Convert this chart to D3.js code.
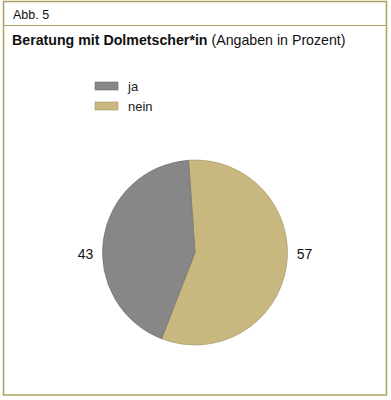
<!DOCTYPE html>
<html><head><meta charset="utf-8">
<script src="https://cdn.jsdelivr.net/npm/d3@7"></script>
<style>body{margin:0;background:#fff}svg{display:block}</style>
</head><body>
<script>
const categories = ["ja", "nein"];
const values = [43, 57];
const colors = ["#878787", "#c8b77f"];
const figLabel = "Abb. 5";
const titleBold = "Beratung mit Dolmetscher*in";
const titleNormal = " (Angaben in Prozent)";

const W = 391, H = 400;
const svg = d3.select("body").append("svg").attr("width", W).attr("height", H);
const font = "Liberation Sans, Arial, Helvetica, sans-serif";
const frame = "#ada262";

svg.append("rect").attr("x", 3.5).attr("y", 1.5).attr("width", 383).attr("height", 393.5)
  .attr("fill", "#fff").attr("stroke", frame).attr("stroke-width", 1.5);
svg.append("line").attr("x1", 3.5).attr("x2", 386.5).attr("y1", 25.5).attr("y2", 25.5)
  .attr("stroke", frame).attr("stroke-width", 1.2);

svg.append("text").attr("x", 13).attr("y", 19).attr("font-family", font).attr("font-size", 12.5)
  .attr("fill", "#111").text(figLabel);
const t = svg.append("text").attr("x", 12).attr("y", 45).attr("font-family", font).attr("font-size", 14.2).attr("fill", "#111");
t.append("tspan").attr("font-weight", "bold").text(titleBold);
t.append("tspan").text(titleNormal);

// legend
const lg = svg.append("g").attr("transform", "translate(95,82)");
categories.forEach((c, i) => {
  const g = lg.append("g").attr("transform", `translate(0,${i * 20})`);
  g.append("rect").attr("width", 23).attr("height", 8).attr("fill", colors[i])
    .attr("stroke", d3.color(colors[i]).darker(0.6)).attr("stroke-width", 0.6);
  g.append("text").attr("x", 33).attr("y", 9).attr("font-family", font).attr("font-size", 13)
    .attr("fill", "#222").text(c);
});

// pie: "nein" starts just left of 12 o'clock and runs clockwise, then "ja"
const cx = 195, cy = 252.5, r = 92.5;
const offset = -4 * Math.PI / 180;
const order = [1, 0];
const arcsData = d3.pie().sort(null).value(i => values[i])
  .startAngle(offset).endAngle(offset + 2 * Math.PI)(order);
const arc = d3.arc().innerRadius(0).outerRadius(r);
const pg = svg.append("g").attr("transform", `translate(${cx},${cy})`);
pg.selectAll("path").data(arcsData).join("path")
  .attr("d", arc).attr("fill", d => colors[d.data])
  .attr("stroke", d => d3.color(colors[d.data]).darker(0.7)).attr("stroke-width", 0.6);

arcsData.forEach(d => {
  const mid = (d.startAngle + d.endAngle) / 2;
  const side = Math.sin(mid) >= 0 ? 1 : -1;
  pg.append("text").attr("x", side * (r + 17)).attr("y", 6)
    .attr("text-anchor", "middle").attr("font-family", font).attr("font-size", 14)
    .attr("fill", "#111").text(values[d.data]);
});
</script>
</body></html>
